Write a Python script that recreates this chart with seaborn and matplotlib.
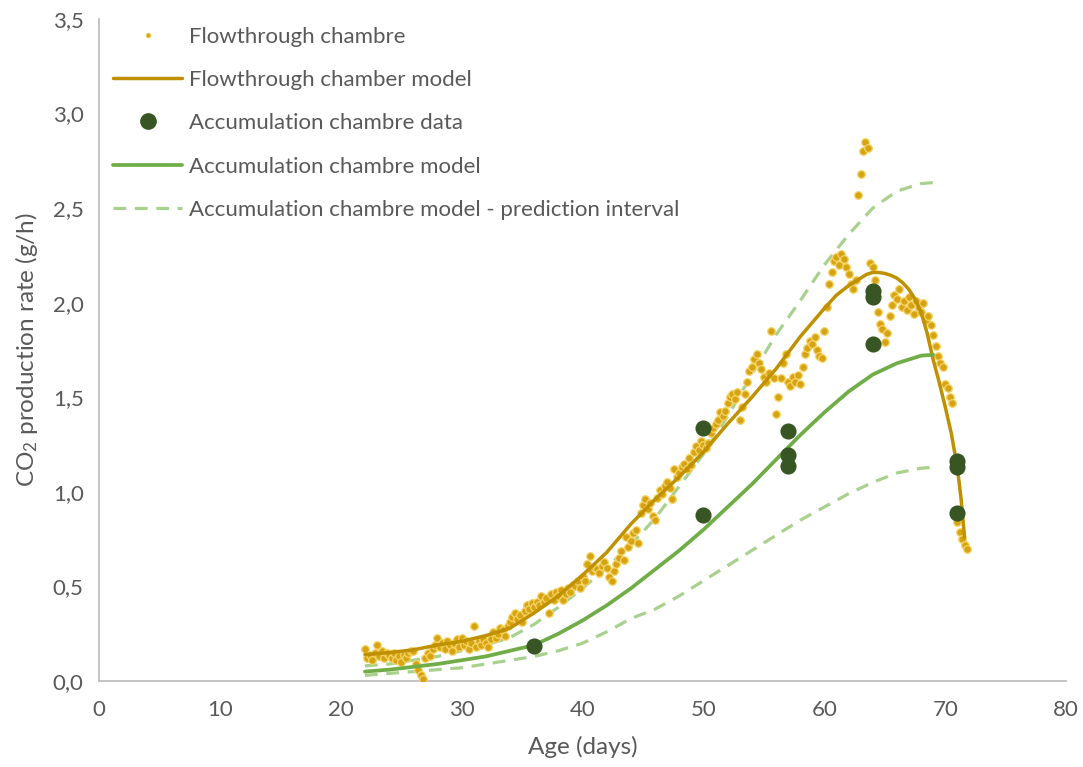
import numpy as np
import pandas as pd
import matplotlib
matplotlib.use("Agg")
import matplotlib.pyplot as plt
from matplotlib.lines import Line2D
from matplotlib.ticker import FuncFormatter, MultipleLocator
import seaborn as sns

# Flowthrough chamber measurements, one reading every 0.2 day from day 22
flow_start_day = 22.0
flow_step_day = 0.2
flow_rate = [
    0.17, 0.12, 0.14, 0.11, 0.15, 0.19, 0.13, 0.16, 0.12, 0.15,
    0.14, 0.12, 0.15, 0.11, 0.13, 0.10, 0.14, 0.12, 0.15, 0.16,
    0.16, 0.09, 0.06, 0.03, 0.01, 0.12, 0.15, 0.13, 0.17, 0.19,
    0.23, 0.18, 0.20, 0.17, 0.21, 0.19, 0.16, 0.20, 0.22, 0.18,
    0.23, 0.19, 0.21, 0.17, 0.20, 0.29, 0.18, 0.21, 0.19, 0.22,
    0.20, 0.18, 0.22, 0.26, 0.23, 0.25, 0.28, 0.27, 0.24, 0.29,
    0.31, 0.34, 0.36, 0.33, 0.35, 0.31, 0.37, 0.40, 0.38, 0.41,
    0.39, 0.42, 0.40, 0.45, 0.42, 0.44, 0.36, 0.46, 0.43, 0.47,
    0.45, 0.48, 0.43, 0.46, 0.49, 0.47, 0.51, 0.50, 0.53, 0.49,
    0.55, 0.53, 0.62, 0.66, 0.58, 0.60, 0.59, 0.57, 0.61, 0.63,
    0.60, 0.55, 0.53, 0.58, 0.62, 0.65, 0.69, 0.64, 0.76, 0.71,
    0.74, 0.78, 0.80, 0.73, 0.89, 0.93, 0.96, 0.91, 0.94, 0.87,
    0.85, 0.97, 1.01, 0.99, 1.03, 1.05, 1.02, 0.96, 1.12, 1.08,
    1.10, 1.13, 1.15, 1.12, 1.18, 1.14, 1.21, 1.24, 1.22, 1.27,
    1.25, 1.23, 1.26, 1.31, 1.34, 1.36, 1.38, 1.42, 1.40, 1.43,
    1.47, 1.50, 1.52, 1.49, 1.53, 1.38, 1.45, 1.52, 1.58, 1.64,
    1.66, 1.70, 1.73, 1.68, 1.65, 1.61, 1.58, 1.63, 1.85, 1.60,
    1.41, 1.50, 1.60, 1.68, 1.73, 1.58, 1.56, 1.61, 1.58, 1.62,
    1.57, 1.66, 1.73, 1.76, 1.80, 1.78, 1.82, 1.75, 1.72, 1.71,
    1.85, 1.98, 2.10, 2.16, 2.22, 2.24, 2.20, 2.26, 2.23, 2.19,
    2.15, 2.10, 2.07, 2.12, 2.57, 2.68, 2.80, 2.85, 2.82, 2.21,
    2.19, 2.12, 1.95, 1.89, 1.86, 1.79, 1.84, 1.93, 1.99, 2.04,
    2.02, 2.07, 1.98, 2.01, 1.96, 2.03, 1.99, 1.94, 2.01, 1.97,
    1.95, 2.00, 1.91, 1.93, 1.88, 1.83, 1.77, 1.72, 1.68, 1.66,
    1.57, 1.55, 1.50, 1.47, 1.14, 0.84, 0.79, 0.75, 0.72, 0.70,
]

# Flowthrough chamber model
flow_model_day = [22, 24, 26, 28, 30, 32, 34, 36, 38, 40, 42, 44, 46, 48, 50,
                  52, 54, 56, 58, 60, 61, 62, 63, 63.5, 64, 64.5, 65, 65.5, 66,
                  66.5, 67, 67.5, 68, 68.5, 69, 69.5, 70, 70.5, 71, 71.3, 71.6]
flow_model_rate = [0.14, 0.15, 0.165, 0.19, 0.21, 0.24, 0.28, 0.36, 0.45, 0.56,
                   0.68, 0.83, 0.96, 1.08, 1.21, 1.36, 1.50, 1.65, 1.82, 1.97,
                   2.04, 2.09, 2.13, 2.15, 2.16, 2.16, 2.155, 2.145, 2.13,
                   2.105, 2.07, 2.02, 1.95, 1.84, 1.70, 1.58, 1.45, 1.31, 1.13,
                   0.97, 0.76]

# Accumulation chamber measurements
acc_day = [36, 50, 50, 57, 57, 57, 64, 64, 64, 71, 71, 71]
acc_rate = [0.185, 1.34, 0.88, 1.32, 1.195, 1.135, 2.06, 2.03, 1.78, 1.165, 1.13, 0.89]

# Accumulation chamber model with its prediction interval
acc_model_day = [22, 24, 26, 28, 30, 32, 34, 36, 38, 40, 42, 44, 46, 48, 50,
                 52, 54, 56, 58, 60, 62, 64, 66, 68, 69]
acc_model_rate = [0.05, 0.06, 0.075, 0.09, 0.11, 0.13, 0.16, 0.19, 0.25, 0.32,
                  0.40, 0.49, 0.59, 0.69, 0.80, 0.92, 1.04, 1.17, 1.30, 1.42,
                  1.53, 1.62, 1.68, 1.72, 1.725]
acc_pi_upper = [0.08, 0.09, 0.11, 0.13, 0.16, 0.19, 0.23, 0.30, 0.39, 0.49,
                0.60, 0.72, 0.86, 1.03, 1.20, 1.40, 1.62, 1.83, 2.01, 2.20,
                2.36, 2.50, 2.59, 2.63, 2.635]
acc_pi_lower = [0.03, 0.04, 0.05, 0.06, 0.07, 0.09, 0.11, 0.13, 0.16, 0.20,
                0.26, 0.33, 0.38, 0.45, 0.53, 0.61, 0.69, 0.77, 0.85, 0.92,
                0.99, 1.05, 1.10, 1.125, 1.13]

flow_day = flow_start_day + flow_step_day * np.arange(len(flow_rate))
flow_df = pd.DataFrame({"day": flow_day, "rate": flow_rate})
flow_model_df = pd.DataFrame({"day": flow_model_day, "rate": flow_model_rate})
acc_df = pd.DataFrame({"day": acc_day, "rate": acc_rate})
acc_model_df = pd.DataFrame({"day": acc_model_day, "rate": acc_model_rate,
                             "upper": acc_pi_upper, "lower": acc_pi_lower})

GOLD_DOT = "#D6A312"
GOLD_EDGE = "#F6D466"
GOLD_LINE = "#BF9000"
DARK_GREEN = "#375623"
GREEN = "#70AD47"
LIGHT_GREEN = "#A9D18E"
TEXT = "#595959"
AXIS = "#BFBFBF"

sns.set_theme(style="white")
plt.rcParams["font.family"] = ["Lato", "DejaVu Sans"]
plt.rcParams["mathtext.default"] = "regular"

fig = plt.figure(figsize=(10.83, 7.67), dpi=100)
ax = fig.add_axes([0.0914, 0.1121, 0.893, 0.8631])

dash = (0, (4, 2.7))
sns.lineplot(data=acc_model_df, x="day", y="upper", ax=ax, color=LIGHT_GREEN,
             linewidth=2.3, linestyle=dash, sort=False, estimator=None, zorder=2)
sns.lineplot(data=acc_model_df, x="day", y="lower", ax=ax, color=LIGHT_GREEN,
             linewidth=2.3, linestyle=dash, sort=False, estimator=None, zorder=2)
sns.scatterplot(data=flow_df, x="day", y="rate", ax=ax, s=30, color=GOLD_DOT,
                edgecolor=GOLD_EDGE, linewidth=0.9, zorder=3)
sns.lineplot(data=flow_model_df, x="day", y="rate", ax=ax, color=GOLD_LINE,
             linewidth=2.5, sort=False, estimator=None, zorder=4)
sns.lineplot(data=acc_model_df, x="day", y="rate", ax=ax, color=GREEN,
             linewidth=2.7, sort=False, estimator=None, zorder=4)
sns.scatterplot(data=acc_df, x="day", y="rate", ax=ax, s=135, color=DARK_GREEN,
                edgecolor=DARK_GREEN, linewidth=0, zorder=5)

ax.set_xlim(0, 80)
ax.set_ylim(0, 3.5)
ax.xaxis.set_major_locator(MultipleLocator(10))
ax.yaxis.set_major_locator(MultipleLocator(0.5))
ax.yaxis.set_major_formatter(FuncFormatter(lambda v, p: f"{v:.1f}".replace(".", ",")))
ax.xaxis.set_major_formatter(FuncFormatter(lambda v, p: f"{v:.0f}"))

for side in ("top", "right"):
    ax.spines[side].set_visible(False)
for side in ("left", "bottom"):
    ax.spines[side].set_color(AXIS)
    ax.spines[side].set_linewidth(1.3)
ax.tick_params(axis="both", which="major", direction="out", length=6, width=1.3,
               color=AXIS, labelcolor=TEXT, labelsize=16, pad=5)
ax.tick_params(axis="x", pad=8)

ax.set_xlabel("Age (days)", fontsize=17.5, color=TEXT, labelpad=11)
ax.set_ylabel("CO$_2$ production rate (g/h)", fontsize=17.5, color=TEXT, labelpad=9)

handles = [
    Line2D([], [], linestyle="none", marker="o", markersize=3.4,
           markerfacecolor=GOLD_DOT, markeredgecolor=GOLD_EDGE, markeredgewidth=0.6),
    Line2D([], [], color=GOLD_LINE, linewidth=2.5),
    Line2D([], [], linestyle="none", marker="o", markersize=11,
           markerfacecolor=DARK_GREEN, markeredgecolor=DARK_GREEN),
    Line2D([], [], color=GREEN, linewidth=2.7),
    Line2D([], [], color=LIGHT_GREEN, linewidth=2.3, linestyle=dash),
]
labels = [
    "Flowthrough chambre",
    "Flowthrough chamber model",
    "Accumulation chambre data",
    "Accumulation chambre model",
    "Accumulation chambre model - prediction interval",
]
leg = ax.legend(handles, labels, loc="upper left", bbox_to_anchor=(0.0057, 1.002),
                frameon=False, fontsize=16, handlelength=3.1, handletextpad=0.3,
                labelspacing=1.05, borderaxespad=0)
for t in leg.get_texts():
    t.set_color(TEXT)

fig.savefig("out.png", dpi=100)
